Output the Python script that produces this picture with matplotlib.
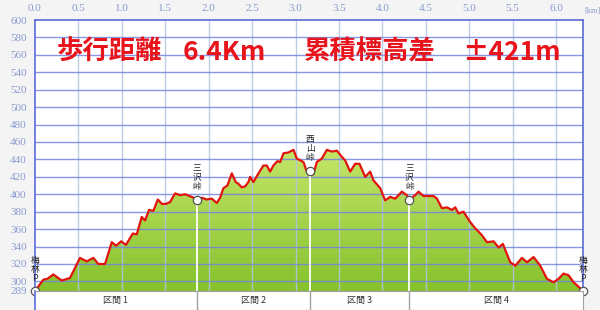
import matplotlib
matplotlib.use("Agg")
import matplotlib.pyplot as plt
import numpy as np
from matplotlib.colors import LinearSegmentedColormap
from matplotlib.patches import Polygon

plt.rcParams['font.family'] = ['Noto Sans CJK JP', 'DejaVu Sans']

# route profile: distance [km] and elevation [m]
dist_km = [0.000, 0.096, 0.142, 0.211, 0.308, 0.403, 0.518, 0.596, 0.672, 0.729,
           0.806, 0.884, 0.933, 0.991, 1.048, 1.126, 1.172, 1.229, 1.267, 1.313,
           1.363, 1.414, 1.460, 1.509, 1.555, 1.613, 1.671, 1.728, 1.805, 1.863,
           1.920, 1.978, 2.036, 2.093, 2.131, 2.169, 2.215, 2.266, 2.312, 2.342,
           2.381, 2.419, 2.457, 2.477, 2.515, 2.573, 2.630, 2.669, 2.707, 2.745,
           2.791, 2.823, 2.861, 2.918, 2.976, 3.015, 3.091, 3.130, 3.168, 3.206,
           3.245, 3.303, 3.361, 3.418, 3.476, 3.533, 3.571, 3.629, 3.687, 3.736,
           3.802, 3.859, 3.897, 3.975, 4.032, 4.090, 4.147, 4.225, 4.282, 4.312,
           4.378, 4.416, 4.473, 4.589, 4.628, 4.685, 4.743, 4.801, 4.839, 4.877,
           4.934, 5.012, 5.069, 5.146, 5.204, 5.280, 5.338, 5.388, 5.472, 5.530,
           5.607, 5.665, 5.741, 5.818, 5.895, 5.971, 6.029, 6.086, 6.144, 6.202,
           6.279, 6.310]
elev_m = [289, 302, 303, 308, 301, 304, 327, 323, 327, 320,
          320, 345, 341, 346, 342, 355, 354, 374, 370, 382,
          381, 394, 389, 389, 391, 401, 399, 400, 397, 394,
          396, 394, 395, 390, 396, 407, 410, 424, 414, 412,
          408, 409, 414, 420, 414, 424, 433, 433, 426, 433,
          438, 437, 447, 448, 451, 441, 437, 426, 427, 423,
          437, 441, 451, 449, 450, 443, 439, 426, 435, 435,
          420, 426, 416, 407, 393, 397, 395, 403, 399, 394,
          399, 403, 398, 398, 395, 384, 385, 382, 385, 378,
          380, 368, 361, 353, 345, 346, 339, 343, 322, 318,
          327, 322, 328, 318, 303, 299, 303, 309, 307, 299,
          292, 289]

# waypoints
wp_names = ['梅林P', '三沢峠', '西山峠', '三沢峠', '梅林P']
wp_km = [0.0, 1.863, 3.168, 4.312, 6.31]
wp_elev = [289, 394, 427, 394, 289]

section_names = ['区間 1', '区間 2', '区間 3', '区間 4']

x_ticks = [0.0, 0.5, 1.0, 1.5, 2.0, 2.5, 3.0, 3.5, 4.0, 4.5, 5.0, 5.5, 6.0]
y_ticks = [289, 300, 320, 340, 360, 380, 400, 420, 440, 460, 480, 500,
           520, 540, 560, 580, 600]

W, H = 600, 310
x_end = wp_km[-1]
y_min, y_max = 289, 600

fig = plt.figure(figsize=(W / 100, H / 100), dpi=100, facecolor='#f4f4f4')
ax = fig.add_axes([35 / W, 1 - 291 / H, 548 / W, 271 / H])
ax.set_facecolor('white')

# gradient fill under the profile
grad = np.linspace(0, 1, 256).reshape(-1, 1)
cmap = LinearSegmentedColormap.from_list('hill', ['#86c22c', '#c6e66a'])
im = ax.imshow(grad, extent=[0, x_end, y_min, 455], origin='lower',
               aspect='auto', cmap=cmap, zorder=1)
verts = list(zip(dist_km, elev_m)) + [(x_end, y_min), (0, y_min)]
patch = Polygon(verts, closed=True, facecolor='none', edgecolor='none')
ax.add_patch(patch)
im.set_clip_path(patch)

# grid lines over the fill
for v in x_ticks[1:]:
    ax.axvline(v, color='#b3c3e3', lw=1, zorder=2, alpha=0.85)
for v in y_ticks[1:-1]:
    ax.axhline(v, color='#7384df', lw=1, zorder=2, alpha=0.85)

# white drop lines at the passes
for k, e in zip(wp_km[1:-1], wp_elev[1:-1]):
    ax.plot([k, k], [y_min, e], color='white', lw=1.3, zorder=3)

ax.plot(dist_km, elev_m, color='#e2140e', lw=1.6, zorder=4,
        solid_joinstyle='round')

ax.plot(wp_km, wp_elev, 'o', ms=6, mfc='white', mec='#555555', mew=0.9,
        zorder=6, clip_on=False)
for name, k, e in zip(wp_names, wp_km, wp_elev):
    ax.annotate('\n'.join(name), xy=(k, e), xytext=(0, 6),
                textcoords='offset points', ha='center', va='bottom',
                fontsize=6.3, linespacing=1.0, color='#222222', zorder=7,
                annotation_clip=False)

ax.set_xlim(0, x_end)
ax.set_ylim(y_min, y_max)
ax.xaxis.tick_top()
ax.set_xticks(x_ticks, labels=[f'{v:.1f}' for v in x_ticks],
              fontfamily='Liberation Serif')
ax.set_yticks(y_ticks, labels=[str(v) for v in y_ticks],
              fontfamily='Liberation Serif')
ax.tick_params(axis='both', length=0, labelsize=8, labelcolor='#8a9ad0')
ax.tick_params(axis='x', pad=5)
ax.tick_params(axis='y', pad=6)
for s in ['top', 'left', 'right']:
    ax.spines[s].set_color('#5a6ad8')
    ax.spines[s].set_linewidth(1.2)
ax.spines['bottom'].set_color('#9a9a9a')

fig.text(584 / W, 1 - 11 / H, '[km]', fontsize=6, color='#8a9ad0',
         fontfamily='Liberation Serif', ha='left', va='center')

# headline
title_color = '#e8141c'
for txt, px in [('歩行距離', 57), ('6.4Km', 183), ('累積標高差', 304), ('±421m', 462)]:
    fig.text(px / W, 1 - 52 / H, txt, fontsize=19, fontweight='bold',
             color=title_color, ha='left', va='center')

# section band below the profile
bx = fig.add_axes([35 / W, 0, 548 / W, 19 / H])
bx.set_facecolor('white')
bx.set_xlim(0, x_end)
bx.set_ylim(0, 1)
bx.set_xticks([])
bx.set_yticks([])
for s in bx.spines.values():
    s.set_color('#a0a0a0')
bx.spines['left'].set_color('#5a6ad8')
bx.spines['left'].set_linewidth(1.2)
for k in wp_km[1:-1]:
    bx.axvline(k, color='#a0a0a0', lw=1)
for i, name in enumerate(section_names):
    mid = (wp_km[i] + wp_km[i + 1]) / 2
    bx.text(mid, 0.5, name, ha='center', va='center', fontsize=6.5,
            color='#333333')

fig.savefig('out.png', dpi=100, facecolor=fig.get_facecolor())
